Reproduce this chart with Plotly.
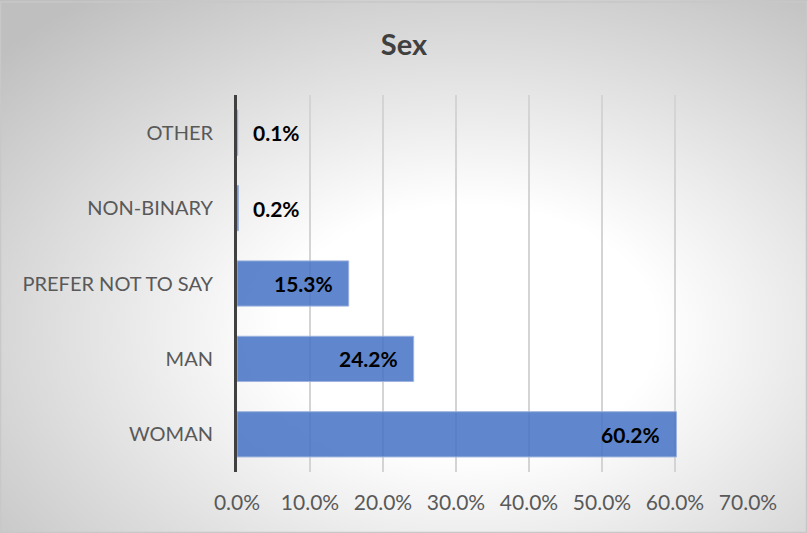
import base64
import plotly.graph_objects as go

# Data
categories = ['WOMAN', 'MAN', 'PREFER NOT TO SAY', 'NON-BINARY', 'OTHER']
shares = [60.2, 24.2, 15.3, 0.2, 0.1]
x_ticks = [0, 10, 20, 30, 40, 50, 60, 70]
x_tick_labels = ['0.0%', '10.0%', '20.0%', '30.0%', '40.0%', '50.0%', '60.0%', '70.0%']

W, H = 807, 533
ML, MR, MT, MB = 237, 59, 95, 61
PW, PH = W - ML - MR, H - MT - MB

FONT = 'Lato, Carlito, Calibri, sans-serif'

# Radial gradient background (Excel style)
svg = (
    f'<svg xmlns="http://www.w3.org/2000/svg" width="{W}" height="{H}">'
    '<defs><radialGradient id="g" cx="0.58" cy="0.62" r="0.78" '
    'gradientUnits="objectBoundingBox">'
    '<stop offset="0" stop-color="#ffffff"/>'
    '<stop offset="0.3" stop-color="#ffffff"/>'
    '<stop offset="1" stop-color="#bfbfbf"/>'
    '</radialGradient></defs>'
    f'<rect width="{W}" height="{H}" fill="url(#g)"/></svg>'
)
bg_src = 'data:image/svg+xml;base64,' + base64.b64encode(svg.encode()).decode()

fig = go.Figure()

fig.add_trace(go.Bar(
    y=categories,
    x=shares,
    orientation='h',
    marker=dict(color='rgba(68,114,196,0.85)',
                line=dict(color='#9db3de', width=1)),
    hoverinfo='skip',
    width=0.6
))

# Data labels
for cat, val in zip(categories, shares):
    inside = val > 5
    fig.add_annotation(
        x=val, y=cat, xref='x', yref='y',
        text=f'<b>{val:.1f}%</b>',
        showarrow=False,
        xanchor='right' if inside else 'left',
        xshift=-14 if inside else 13,
        font=dict(family=FONT, size=21, color='#000000')
    )

fig.add_layout_image(
    source=bg_src, xref='paper', yref='paper',
    x=-ML / PW, y=1 + MT / PH, sizex=W / PW, sizey=H / PH,
    xanchor='left', yanchor='top', sizing='stretch', layer='below'
)

# Chart border
fig.add_shape(
    type='rect', xref='paper', yref='paper',
    x0=-ML / PW + 0.5 / PW, x1=1 + (MR - 0.5) / PW,
    y0=-(MB - 0.5) / PH, y1=1 + (MT - 2) / PH,
    line=dict(color='#c8c8c8', width=1.5), layer='above'
)

fig.update_layout(
    width=W, height=H,
    margin=dict(l=ML, r=MR, t=MT, b=MB, autoexpand=False),
    paper_bgcolor='rgba(0,0,0,0)',
    plot_bgcolor='rgba(0,0,0,0)',
    showlegend=False,
    title=dict(text='<b>Sex</b>', x=404 / W, xref='container', xanchor='center',
               y=1 - 45 / H, yref='container', yanchor='middle',
               font=dict(family=FONT, size=29, color='#404040')),
    font=dict(family=FONT),
    bargap=0.4
)

fig.update_xaxes(
    range=[0, 70],
    tickvals=x_ticks,
    ticktext=x_tick_labels,
    showgrid=True, gridcolor='#d4d4d4', gridwidth=1.5,
    zeroline=False, showline=False,
    ticks='', ticklabelstandoff=16,
    tickfont=dict(family=FONT, size=21, color='#595959'),
    automargin=False,
    fixedrange=True
)

fig.update_yaxes(
    categoryorder='array', categoryarray=categories,
    showgrid=False, zeroline=False,
    showline=True, linecolor='#404040', linewidth=3,
    ticks='', ticklabelstandoff=17,
    tickfont=dict(family=FONT, size=20, color='#595959'),
    automargin=False,
    fixedrange=True
)

# remove the default page margin so the chart fills the window
fig.write_html('out.html', config={'displayModeBar': False},
               post_script="document.body.style.margin='0';")
